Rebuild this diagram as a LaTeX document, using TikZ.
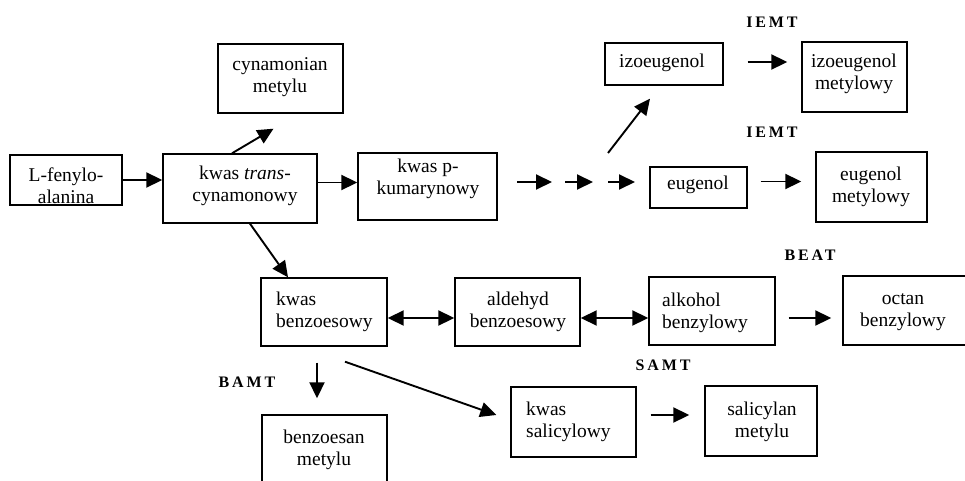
\documentclass[tikz,border=0pt]{standalone}
\usepackage{fontspec}
\setmainfont{Liberation Serif}
\newfontfamily\lblfont[LetterSpace=18]{Liberation Serif}
\usetikzlibrary{arrows.meta,calc}
\tikzset{
  box/.style={draw, line width=1.4pt, inner sep=0pt, fill=white},
  txt/.style={inner sep=0pt, yshift=-2.5pt, font=\fontsize{19.5}{22}\selectfont, align=center},
  ltxt/.style={inner sep=0pt, yshift=-2.5pt, font=\fontsize{19.5}{22}\selectfont, align=left, anchor=west},
  lbl/.style={inner sep=0pt, font=\lblfont\bfseries\fontsize{16}{18}\selectfont},
  arr/.style={line width=1.9pt, -{Triangle[length=16pt,width=15pt]}},
  darr/.style={line width=1.9pt, {Triangle[length=16pt,width=15pt]}-{Triangle[length=16pt,width=15pt]}}
}
\begin{document}
\begin{tikzpicture}[x=1pt,y=-1pt]
\useasboundingbox (0,0) rectangle (965,481);
% boxes
\node[box, minimum width=112pt, minimum height=50pt] (fen) at (66,180) {};
\node[box, minimum width=154pt, minimum height=69pt] (cyn) at (240,188.5) {};
\node[box, minimum width=139pt, minimum height=67pt] (kum) at (427.5,186.5) {};
\node[box, minimum width=125pt, minimum height=69pt] (cynm) at (280.5,78.5) {};
\node[box, minimum width=118pt, minimum height=42pt] (izo) at (664,64) {};
\node[box, minimum width=105pt, minimum height=70pt] (izom) at (854.5,77) {};
\node[box, minimum width=97pt, minimum height=41pt] (eug) at (698.5,187.5) {};
\node[box, minimum width=111pt, minimum height=70pt] (eugm) at (871.5,187) {};
\node[box, minimum width=126pt, minimum height=68pt] (benz) at (324,312) {};
\node[box, minimum width=125pt, minimum height=68pt] (ald) at (517.5,312) {};
\node[box, minimum width=126pt, minimum height=68pt] (alk) at (712,311) {};
\node[box, minimum width=142pt, minimum height=69pt] (oct) at (914,310.5) {};
\node[box, minimum width=125pt, minimum height=70pt] (sal) at (573.5,422) {};
\node[box, minimum width=112pt, minimum height=70pt] (salm) at (761,421) {};
\node[box, minimum width=125pt, minimum height=85pt] (bzm) at (324.5,457.5) {};
% texts
\node[txt] (tfen) at (66,183) {L-fenylo-\\alanina};
\node[txt] (tcyn) at (245,183) {kwas \textit{trans}-\\cynamonowy};
\node[txt] (tkum) at (428,176) {kwas p-\\kumarynowy};
\node[txt] (tcynm) at (280,75) {cynamonian\\metylu};
\node[txt] (tizo) at (662,60) {izoeugenol};
\node[txt] (tizom) at (854,71) {izoeugenol\\metylowy};
\node[txt] (teug) at (698,182) {eugenol};
\node[txt] (teugm) at (871,184) {eugenol\\metylowy};
\node[ltxt] (tbenz) at (276,309) {kwas\\benzoesowy};
\node[txt] (tald) at (518,309) {aldehyd\\benzoesowy};
\node[ltxt] (talk) at (662,310) {alkohol\\benzylowy};
\node[txt] (toct) at (903,310) {octan\\benzylowy};
\node[ltxt] (tsal) at (526,419) {kwas\\salicylowy};
\node[txt] (tsalm) at (762,419) {salicylan\\metylu};
\node[txt] (tbzm) at (324,447) {benzoesan\\metylu};
% enzyme labels
\node[lbl] (l1) at (772,22) {IEMT};
\node[lbl] (l2) at (772,132) {IEMT};
\node[lbl] (l3) at (810,255) {BEAT};
\node[lbl] (l4) at (663,365) {SAMT};
\node[lbl] (l5) at (247,382) {BAMT};
% coordinates for free ends
\coordinate (d1a) at (517,182); \coordinate (d1b) at (552,182);
\coordinate (d2a) at (565,182); \coordinate (d2b) at (593,182);
\coordinate (d3a) at (608,182); \coordinate (d3b) at (635,182);
\coordinate (br) at (608,153);
% connectors
\draw[arr] (fen.east) -- (fen.east -| cyn.west);
\draw[arr] ([yshift=6pt]cyn.east) -- ([yshift=6pt]cyn.east -| kum.west);
\draw[arr] ([xshift=-8pt]cyn.north) -- ([xshift=-7pt,yshift=-15pt]cynm.south);
\draw[arr] ([xshift=10pt]cyn.south) -- ([xshift=-36pt]benz.north);
\draw[arr] (d1a) -- (d1b);
\draw[arr] (d2a) -- (d2b);
\draw[arr] (d3a) -- (d3b);
\draw[arr] (br) -- ([xshift=-14pt,yshift=-13pt]izo.south);
\draw[arr, shorten <=24pt, shorten >=14pt] ([yshift=2pt]izo.east) -- ([yshift=2pt]izo.east -| izom.west);
\draw[arr, shorten <=13pt, shorten >=14pt] ([yshift=6pt]eug.east) -- ([yshift=6pt]eug.east -| eugm.west);
\draw[darr] ([yshift=-6pt]benz.east) -- ([yshift=-6pt]benz.east -| ald.west);
\draw[darr] ([yshift=-6pt]ald.east) -- ([yshift=-6pt]ald.east -| alk.west);
\draw[arr, shorten <=13pt, shorten >=11pt] ([yshift=-7pt]alk.east) -- ([yshift=-7pt]alk.east -| oct.west);
\draw[arr, shorten <=16pt, shorten >=16pt] ([xshift=-7pt]benz.south) -- ([xshift=-7pt]benz.south |- bzm.north);
\draw[arr] ([xshift=21pt,yshift=-15pt]benz.south) -- ([xshift=-14pt,yshift=7pt]sal.west);
\draw[arr, shorten <=14pt, shorten >=15pt] ([yshift=7pt]sal.east) -- ([yshift=7pt]sal.east -| salm.west);
\end{tikzpicture}
\end{document}
